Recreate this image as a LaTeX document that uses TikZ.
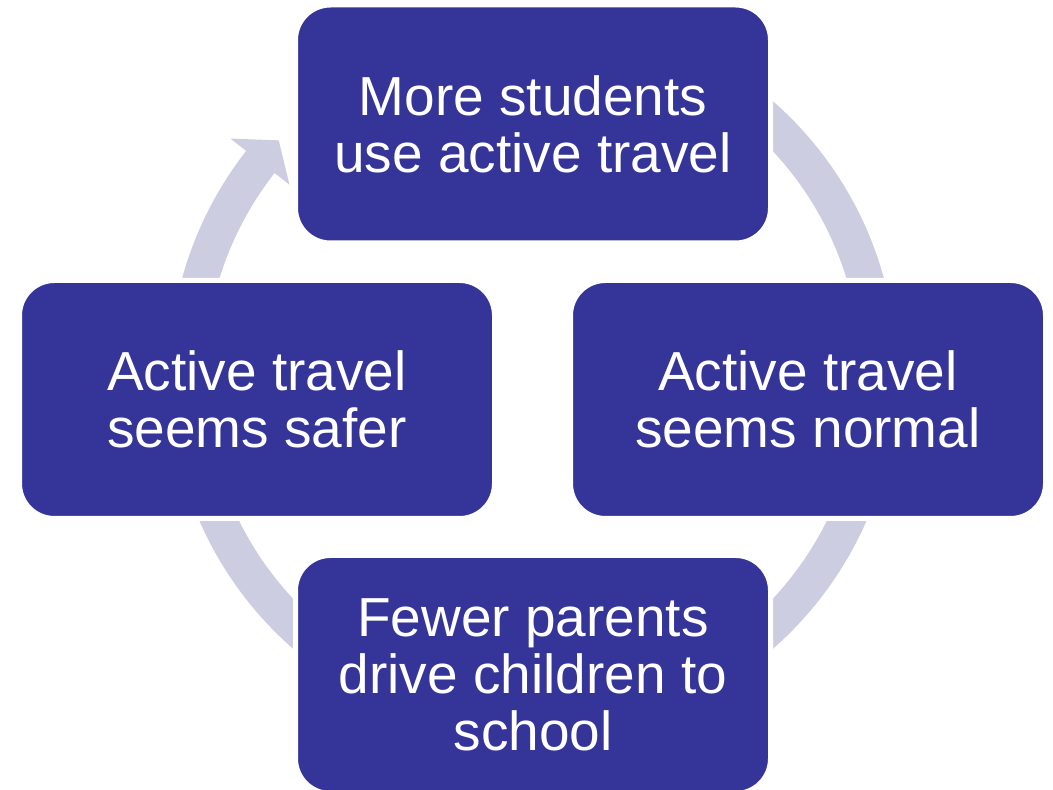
\documentclass[tikz,border=0pt]{standalone}
\usepackage{fontspec}
\setmainfont{Liberation Sans}
\usetikzlibrary{calc}
\definecolor{boxblue}{RGB}{53,53,153}
\definecolor{ringgray}{RGB}{205,205,225}
\begin{document}
\begin{tikzpicture}[x=1pt,y=1pt,
  cyclebox/.style={fill=boxblue, draw=white, line width=5pt, rounded corners=35pt,
    minimum width=475pt, minimum height=238pt, inner sep=0pt, text=white,
    align=center, font=\fontsize{55}{57}\selectfont}]
\useasboundingbox (0,0) rectangle (1053,790);
\coordinate (c) at (533,415);
\fill[ringgray] ($(c)+(100:364pt)$) arc[start angle=100,end angle=-218,radius=364pt]
  -- ($(c)+(-218:384pt)$) -- ($(c)+(-222.7:346pt)$) -- ($(c)+(-218:309pt)$)
  -- ($(c)+(-218:328pt)$) arc[start angle=-218,end angle=100,radius=328pt] -- cycle;
\node[cyclebox] (top) at (533,666) {More students\\use active travel};
\node[cyclebox] (left) at (257,390.5) {Active travel\\seems safer};
\node[cyclebox] (right) at (808,390.5) {Active travel\\seems normal};
\node[cyclebox] (bottom) at (533,115.5) {Fewer parents\\drive children to\\school};
\end{tikzpicture}
\end{document}
